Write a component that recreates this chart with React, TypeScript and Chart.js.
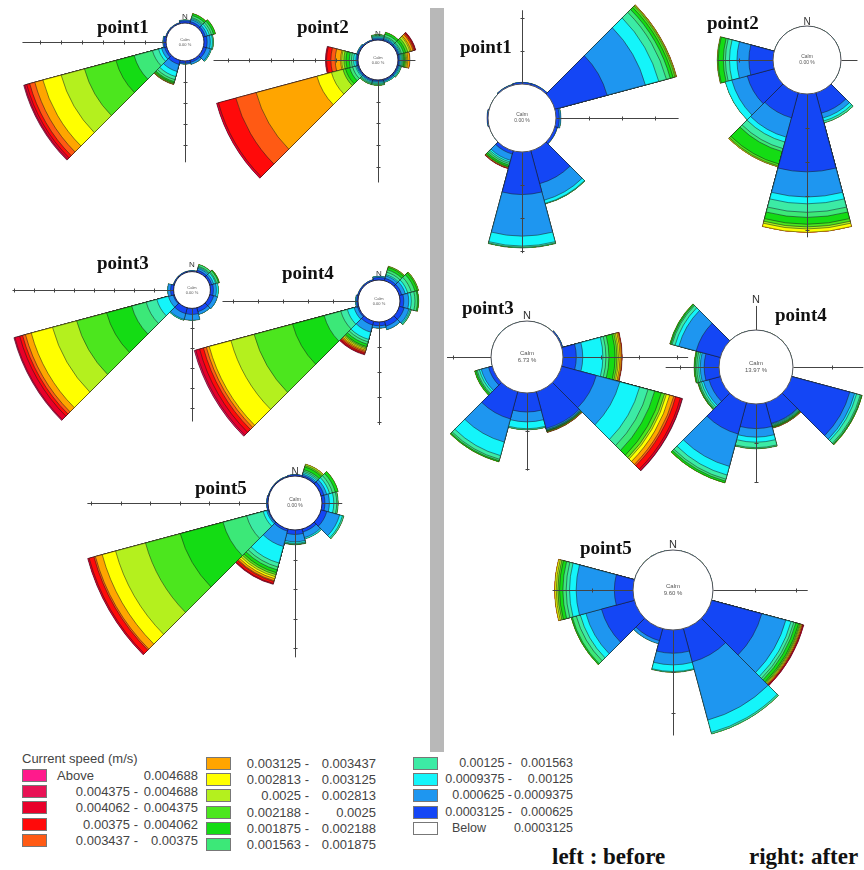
import React, { useEffect, useRef } from 'react';
import { Chart, registerables } from 'chart.js';

Chart.register(...registerables);

// 12 direction sectors of 30 degrees, clockwise from North
const directions = ['N', '30°', '60°', 'E', '120°', '150°', 'S', '210°', '240°', 'W', '300°', '330°'];

// current speed classes (m/s), lowest first; last one is "Above"
const speedLow = ['0.0003125', '0.000625', '0.0009375', '0.00125', '0.001563', '0.001875', '0.002188', '0.0025', '0.002813', '0.003125', '0.003437', '0.00375', '0.004062', '0.004375', 'Above'];
const speedHigh = ['0.000625', '0.0009375', '0.00125', '0.001563', '0.001875', '0.002188', '0.0025', '0.002813', '0.003125', '0.003437', '0.00375', '0.004062', '0.004375', '0.004688', '0.004688'];
const belowLabel = 'Below';
const belowValue = '0.0003125';
const speedColors = ['#1446F5', '#1E96F0', '#14F5FA', '#3CEBA5', '#3CE878', '#14DC14', '#4CE61E', '#B4F01E', '#FFFF00', '#FFA500', '#FF5A14', '#FF0A0A', '#E8002A', '#E81255', '#FF1A8C'];

// frequency per direction (rows N..330°) per speed class (lowest first), in axis-tick units
const p1Before: number[][] = [
  [0.1, 0.05],
  [0.1, 0.1, 0.05, 0.05, 0.1, 0.1],
  [0.1, 0.1, 0.1, 0.1, 0.1, 0.1],
  [0.15, 0.15, 0.1, 0.05],
  [0.15, 0.2, 0.05],
  [0.1, 0.1],
  [0.1, 0.05],
  [0.2, 0.35, 0.25, 0.15, 0.1, 0.06, 0.04, 0.02, 0.02],
  [0.1, 0.15, 0.15, 0.3, 0.9, 0.9, 1.55, 1.15, 0.9, 0.4, 0.25, 0.15, 0.1, 0.05],
  [0.1, 0.05],
  [0.05],
  [0.05],
];
const p2Before: number[][] = [
  [0.05, 0.05, 0.05, 0.05, 0.05],
  [0.05, 0.05, 0.05, 0.05, 0.1, 0.1],
  [0.05, 0.05, 0.05, 0.05, 0.1, 0.1, 0.1, 0.1, 0.05, 0.1, 0.05, 0.05, 0.03],
  [0.05, 0.05, 0.05, 0.05, 0.05, 0.05, 0.05, 0.05, 0.05, 0.1],
  [0.05, 0.05, 0.05, 0.05],
  [0.05, 0.05, 0.05],
  [0.05, 0.05, 0.05, 0.05, 0.05],
  [0.05, 0.05, 0.05, 0.05, 0.05],
  [0.05, 0.05, 0.05, 0.14, 0.14, 0.2, 0.12, 0.55, 0.69, 2.9, 0.97, 0.83, 0.09],
  [0.05, 0.05, 0.1, 0.1, 0.1, 0.15, 0.1, 0.1, 0.05, 0.25, 0.2, 0.2, 0.05],
  [0.05, 0.05],
  [0.05],
];
const p3Before: number[][] = [
  [0.05],
  [0.1, 0.1, 0.05, 0.05, 0.1],
  [0.1, 0.1, 0.1, 0.05, 0.1, 0.05],
  [0.15, 0.15, 0.1],
  [0.2, 0.2],
  [0.2, 0.15],
  [0.3, 0.3],
  [0.3, 0.3, 0.05],
  [0.05, 0.25, 0.6, 0.55, 0.75, 1.3, 1.55, 1.25, 1.1, 0.3, 0.15, 0.15, 0.25, 0.05],
  [0.15, 0.15],
  [0.05],
  [0.05],
];
const p4Before: number[][] = [
  [0.1, 0.05],
  [0.1, 0.1, 0.05, 0.1, 0.1, 0.1, 0.05],
  [0.1, 0.15, 0.1, 0.15, 0.15, 0.1, 0.05],
  [0.15, 0.2, 0.1, 0.15, 0.1, 0.05],
  [0.2, 0.2, 0.05, 0.05],
  [0.2, 0.15],
  [0.15, 0.1],
  [0.15, 0.3, 0.3, 0.1, 0.1, 0.1, 0.05, 0.05, 0.05, 0.05, 0.05, 0.05, 0.04],
  [0.05, 0.14, 0.28, 0.27, 0.69, 1.31, 1.59, 0.96, 0.9, 0.12, 0.12, 0.16, 0.16, 0.06],
  [0.05, 0.05],
  [0.05],
  [0.05],
];
const p5Before: number[][] = [
  [0.05],
  [0.05, 0.05, 0.05, 0.05, 0.05, 0.1, 0.05, 0.05],
  [0.1, 0.1, 0.1, 0.1, 0.1, 0.1],
  [0.1, 0.15, 0.15, 0.1, 0.05],
  [0.2, 0.45, 0.1, 0.05],
  [0.1, 0.2, 0.05],
  [0.15, 0.25, 0.05, 0.03, 0.02],
  [0.07, 0.54, 0.58, 0.14, 0.1, 0.1, 0.07, 0.07, 0.07, 0.07, 0.03, 0.07, 0.03],
  [0.03, 0.05, 0.12, 0.58, 0.83, 1.5, 1.22, 1.05, 0.47, 0.24, 0.05, 0.17, 0.05],
  [0.05],
  [0.03],
  [0.03],
];
const p1After: number[][] = [
  [0.05],
  [0.05],
  [1.64, 1.2, 0.42, 0.24, 0.12, 0.09, 0.06, 0.03, 0.02],
  [0.1, 0.05],
  [0.08],
  [1.03, 0.52, 0.1, 0.02],
  [1.29, 1.26, 0.3, 0.04, 0.02],
  [0.1, 0.2, 0.05, 0.05, 0.05, 0.05, 0.02, 0, 0, 0.02, 0, 0.02],
  [],
  [0.03],
  [],
  [0.03],
];
const p2After: number[][] = [
  [],
  [],
  [],
  [],
  [],
  [0.62, 0.15, 0.09, 0.06],
  [2.29, 0.74, 0.2, 0.25, 0.15, 0.2, 0.08, 0.06, 0.1],
  [0.76, 0.59, 0.15, 0.2, 0.09, 0.38, 0.06, 0.03],
  [0.82, 0.47, 0.2],
  [0.71, 0.35, 0.22, 0.12, 0.06, 0.15, 0.03],
  [],
  [],
];
const p3After: number[][] = [
  [],
  [],
  [0.03],
  [0.35, 0.17, 0.53, 0.08, 0.08, 0.16, 0.05, 0.04, 0.04, 0.04, 0.02],
  [0.94, 0.64, 0.54, 0.23, 0.18, 0.18, 0.09, 0.05, 0.09, 0.11, 0.05, 0.13, 0.05, 0.01],
  [1.0, 0.03, 0.01, 0.01, 0.01, 0.01, 0.01, 0.01, 0.01, 0.01],
  [0.5, 0.26, 0.18, 0.03],
  [0.74, 0.63, 0.37, 0.1, 0.04, 0.03],
  [0.1, 0.2, 0.05, 0.06, 0.03, 0.04],
  [],
  [],
  [],
];
const p4After: number[][] = [
  [],
  [],
  [],
  [],
  [1.54, 0.13, 0.05, 0.1, 0.03, 0.02],
  [0.55, 0.02, 0.02, 0.02, 0.02, 0.02, 0.01, 0.01, 0.01],
  [0.63, 0.22, 0.13, 0.14, 0.03],
  [0.83, 0.86, 0.23, 0.11, 0.05, 0.05],
  [0.3, 0.15, 0.05, 0.05, 0.03, 0.02],
  [0.38, 0.1, 0.04, 0.05, 0.04, 0.03],
  [0.64, 0.46, 0.1, 0.08, 0.03, 0.03],
  [],
];
const p5After: number[][] = [
  [],
  [],
  [],
  [],
  [1.25, 0.6, 0.13, 0.07, 0.05, 0.07, 0.03, 0.02, 0.02, 0.02, 0, 0.02, 0.02],
  [0.83, 1.45, 0.31, 0.04],
  [0.56, 0.28, 0.16, 0.02],
  [0.3, 0.08],
  [0.82, 0.39, 0.14, 0.1, 0.1, 0.03],
  [0.45, 0.92, 0.16, 0.08, 0.08, 0.08, 0.04, 0.04, 0.04],
  [],
  [],
];

const calmBefore = ['0.00 %', '0.00 %', '0.00 %', '0.00 %', '0.00 %'];
const calmAfter = ['0.00 %', '0.00 %', '6.73 %', '13.97 %', '9.60 %'];

type RoseCfg = {
  title: string;
  data: number[][];
  calm: string;
  cx: number;
  cy: number;
  calmPx: number;
  tickPx: number;
  axes: [number, number][]; // [bearing, length in tick units]
  titleX: number;
  titleY: number;
  nGap: number | null;
  nSize: number;
  calmSize: number;
  ring: string;
};

const roses: RoseCfg[] = [
  { title: 'point1', data: p1Before, calm: calmBefore[0], cx: 185, cy: 42, calmPx: 19, tickPx: 21, axes: [[270, 6.86], [180, 4.8]], titleX: 97, titleY: 27, nGap: 7, nSize: 8, calmSize: 4, ring: '#223' },
  { title: 'point2', data: p2Before, calm: calmBefore[1], cx: 378, cy: 60, calmPx: 20, tickPx: 21.7, axes: [[270, 6.68], [180, 4.7], [90, 0.78]], titleX: 297, titleY: 27, nGap: 7, nSize: 8, calmSize: 4, ring: '#223' },
  { title: 'point3', data: p3Before, calm: calmBefore[2], cx: 192, cy: 290, calmPx: 18.4, tickPx: 20, axes: [[270, 8.08], [180, 5.63]], titleX: 97, titleY: 263, nGap: 7, nSize: 8, calmSize: 4, ring: '#223' },
  { title: 'point4', data: p4Before, calm: calmBefore[3], cx: 379, cy: 301, calmPx: 21, tickPx: 25, axes: [[270, 5.44], [180, 4.1]], titleX: 282, titleY: 273, nGap: 7, nSize: 8, calmSize: 4, ring: '#223' },
  { title: 'point5', data: p5Before, calm: calmBefore[4], cx: 295, cy: 503, calmPx: 27, tickPx: 29.5, axes: [[270, 6.14], [180, 4.3], [90, 0.67]], titleX: 195, titleY: 488, nGap: 5, nSize: 10, calmSize: 5, ring: '#223' },
  { title: 'point1', data: p1After, calm: calmAfter[0], cx: 522, cy: 118, calmPx: 34, tickPx: 33, axes: [[0, 2.25], [90, 3.7], [180, 3.05]], titleX: 460, titleY: 47, nGap: null, nSize: 10, calmSize: 5, ring: '#555' },
  { title: 'point2', data: p2After, calm: calmAfter[1], cx: 807, cy: 60, calmPx: 34, tickPx: 34, axes: [[270, 1.65], [90, 0.47], [180, 4.2]], titleX: 707, titleY: 23, nGap: 5, nSize: 10, calmSize: 5, ring: '#555' },
  { title: 'point3', data: p3After, calm: calmAfter[2], cx: 527, cy: 357, calmPx: 36, tickPx: 38, axes: [[270, 1.17], [90, 3.28], [180, 2.03]], titleX: 462, titleY: 308, nGap: 6, nSize: 11, calmSize: 6, ring: '#555' },
  { title: 'point4', data: p4After, calm: calmAfter[3], cx: 756, cy: 367, calmPx: 37, tickPx: 39, axes: [[0, 0.63], [270, 1.38], [90, 1.79], [180, 2.0]], titleX: 775, titleY: 315, nGap: 31, nSize: 11, calmSize: 6, ring: '#555' },
  { title: 'point5', data: p5After, calm: calmAfter[4], cx: 673, cy: 590, calmPx: 40, tickPx: 41.5, axes: [[270, 1.95], [90, 2.27], [180, 2.53]], titleX: 580, titleY: 548, nGap: 6, nSize: 11, calmSize: 6, ring: '#555' },
];

const SANS = '"Liberation Sans", Arial, Helvetica, sans-serif';
const SERIF = '"Liberation Serif", "Times New Roman", serif';

function cumulative(data: number[][]): number[][] {
  return data.map((row) => {
    let s = 0;
    return speedColors.map((_, k) => (s += row[k] ?? 0));
  });
}

function canvasHalf(cfg: RoseCfg): number {
  const cum = cumulative(cfg.data);
  let maxV = 0;
  cum.forEach((c) => { maxV = Math.max(maxV, c[c.length - 1]); });
  cfg.axes.forEach(([, l]) => { maxV = Math.max(maxV, l); });
  return Math.ceil(cfg.calmPx + cfg.tickPx * maxV + 10);
}

function decorPlugin(cfg: RoseCfg) {
  return {
    id: 'roseDecor',
    afterDatasetsDraw(chart: any) {
      const scale = chart.scales.r;
      const ctx: CanvasRenderingContext2D = chart.ctx;
      const cx = scale.xCenter;
      const cy = scale.yCenter;
      const r0 = scale.getDistanceFromCenterForValue(0);
      ctx.save();
      ctx.translate(0.5, 0.5);
      ctx.strokeStyle = '#444';
      ctx.lineWidth = 1;
      for (const [bearing, len] of cfg.axes) {
        const a = ((bearing - 90) * Math.PI) / 180;
        const ux = Math.round(Math.cos(a) * 1e6) / 1e6;
        const uy = Math.round(Math.sin(a) * 1e6) / 1e6;
        const r1 = scale.getDistanceFromCenterForValue(len);
        ctx.beginPath();
        ctx.moveTo(cx + ux * r0, cy + uy * r0);
        ctx.lineTo(cx + ux * r1, cy + uy * r1);
        for (let k = 1; k <= len + 1e-9; k++) {
          const rk = scale.getDistanceFromCenterForValue(k);
          const px = Math.round(cx + ux * rk);
          const py = Math.round(cy + uy * rk);
          ctx.moveTo(px - uy * 2, py + ux * 2);
          ctx.lineTo(px + uy * 2, py - ux * 2);
        }
        ctx.stroke();
      }
      ctx.restore();
      ctx.save();
      ctx.beginPath();
      ctx.arc(cx, cy, r0, 0, Math.PI * 2);
      ctx.fillStyle = '#fff';
      ctx.fill();
      ctx.strokeStyle = cfg.ring;
      ctx.lineWidth = 1;
      ctx.stroke();
      ctx.fillStyle = '#555';
      ctx.textAlign = 'center';
      ctx.textBaseline = 'middle';
      ctx.font = `${cfg.calmSize}px ${SANS}`;
      ctx.fillText('Calm', cx, cy - cfg.calmSize * 0.6);
      ctx.fillText(cfg.calm, cx, cy + cfg.calmSize * 0.6);
      if (cfg.nGap !== null) {
        ctx.fillStyle = '#333';
        ctx.font = `${cfg.nSize}px ${SANS}`;
        ctx.textBaseline = 'alphabetic';
        ctx.fillText('N', cx, cy - r0 - cfg.nGap + cfg.nSize * 0.35);
      }
      ctx.restore();
    },
  };
}

function Rose({ cfg }: { cfg: RoseCfg }) {
  const ref = useRef<HTMLCanvasElement>(null);
  const R = canvasHalf(cfg);
  useEffect(() => {
    if (!ref.current) return;
    const cum = cumulative(cfg.data);
    const datasets = speedColors.map((color, k) => ({
      label: k === speedColors.length - 1 ? `Above ${speedHigh[k]}` : `${speedLow[k]} - ${speedHigh[k]}`,
      data: cum.map((c) => c[k]),
      backgroundColor: color,
      borderColor: 'rgba(25,25,25,0.85)',
      borderWidth: cfg.data.map((row) => ((row[k] ?? 0) > 0 ? 0.6 : 0)),
    }));
    const chart = new Chart(ref.current, {
      type: 'polarArea',
      data: { labels: directions, datasets },
      options: {
        responsive: false,
        animation: false,
        events: [],
        layout: { padding: 0 },
        plugins: { legend: { display: false }, tooltip: { enabled: false } },
        scales: {
          r: {
            type: 'radialLinear',
            min: -cfg.calmPx / cfg.tickPx,
            max: (R - cfg.calmPx) / cfg.tickPx,
            bounds: 'data',
            startAngle: -15,
            grid: { display: false },
            angleLines: { display: false },
            pointLabels: { display: false },
            ticks: { display: false },
          },
        },
      } as any,
      plugins: [decorPlugin(cfg)],
    });
    return () => chart.destroy();
  }, []);
  return (
    <canvas
      ref={ref}
      width={2 * R}
      height={2 * R}
      style={{ position: 'absolute', left: cfg.cx - R, top: cfg.cy - R, width: 2 * R, height: 2 * R }}
    />
  );
}

const legendTitle = 'Current speed (m/s)';
const legendCols = [
  { items: [14, 13, 12, 11, 10], x: 22, y0: 776, wordX: 57, leftEnd: 138, rightEnd: 198, size: 13 },
  { items: [9, 8, 7, 6, 5, 4], x: 206, y0: 764, wordX: 242, leftEnd: 309, rightEnd: 376, size: 13 },
  { items: [3, 2, 1, 0, -1], x: 413, y0: 764, wordX: 452, leftEnd: 512, rightEnd: 573, size: 12.5 },
];

function Legend() {
  const base: React.CSSProperties = { position: 'absolute', color: '#444', lineHeight: '16px', whiteSpace: 'nowrap' };
  const nodes: React.ReactNode[] = [];
  legendCols.forEach((col, ci) => {
    const text = { ...base, font: `${col.size}px ${SANS}` };
    col.items.forEach((k, ri) => {
      const y = col.y0 + ri * 16.2;
      const color = k < 0 ? '#fff' : speedColors[k];
      nodes.push(
        <div key={`s${ci}-${ri}`} style={{ position: 'absolute', left: col.x, top: y - 7, width: 25, height: 13, background: color, border: '1px solid #777', boxSizing: 'border-box' }} />
      );
      const isWord = k < 0 || k === speedColors.length - 1;
      const left = k < 0 ? belowLabel : k === speedColors.length - 1 ? 'Above' : `${speedLow[k]} -`;
      const right = k < 0 ? belowValue : speedHigh[k];
      if (isWord) {
        nodes.push(<div key={`l${ci}-${ri}`} style={{ ...text, left: col.wordX, top: y - 8 }}>{left}</div>);
      } else {
        nodes.push(<div key={`l${ci}-${ri}`} style={{ ...text, right: 864 - col.leftEnd, top: y - 8, textAlign: 'right' }}>{left}</div>);
      }
      nodes.push(<div key={`r${ci}-${ri}`} style={{ ...text, right: 864 - col.rightEnd, top: y - 8, textAlign: 'right' }}>{right}</div>);
    });
  });
  return (
    <>
      <div style={{ ...base, font: `13px ${SANS}`, left: 22, top: 751 }}>{legendTitle}</div>
      {nodes}
    </>
  );
}

export default function App() {
  return (
    <div style={{ position: 'absolute', left: 0, top: 0, width: 864, height: 870, overflow: 'hidden', background: '#fff' }}>
      <div style={{ position: 'absolute', left: 430, top: 8, width: 14, height: 744, background: '#B8B8B8' }} />
      {roses.map((cfg, i) => (
        <Rose key={i} cfg={cfg} />
      ))}
      {roses.map((cfg, i) => (
        <div key={`t${i}`} style={{ position: 'absolute', left: cfg.titleX, top: cfg.titleY - 12, font: `bold 19px ${SERIF}`, lineHeight: '24px', color: '#111', whiteSpace: 'nowrap' }}>
          {cfg.title}
        </div>
      ))}
      <Legend />
      <div style={{ position: 'absolute', left: 552, top: 843, font: `bold 23px ${SERIF}`, lineHeight: '28px', color: '#111', whiteSpace: 'nowrap' }}>left : before</div>
      <div style={{ position: 'absolute', left: 749, top: 843, font: `bold 23px ${SERIF}`, lineHeight: '28px', color: '#111', whiteSpace: 'nowrap' }}>right: after</div>
    </div>
  );
}
